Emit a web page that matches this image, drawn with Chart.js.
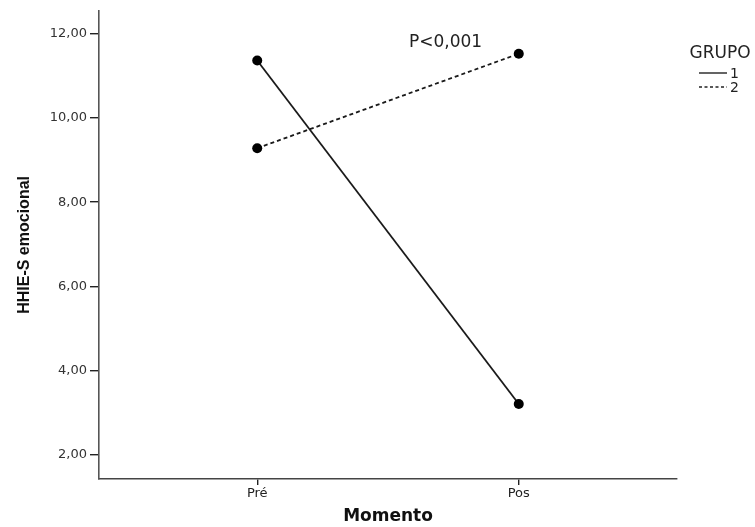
<!DOCTYPE html>
<html>
<head>
<meta charset="utf-8">
<script src="https://cdn.jsdelivr.net/npm/chart.js@4.4.0/dist/chart.umd.min.js"></script>
<style>
  html, body { margin: 0; padding: 0; background: #fff; }
  #wrap { width: 755px; height: 527px; }
</style>
</head>
<body>
<div id="wrap"><canvas id="myChart" width="755" height="527"></canvas></div>
<script>
// data
var momentos = ["Pré", "Pos"];
var grupo1 = [11.36, 3.21];
var grupo2 = [9.28, 11.52];
var grupos = ["1", "2"];
var yTicks = [2, 4, 6, 8, 10, 12];
var pText = "P<0,001";

function toPoints(vals) {
  return vals.map(function (v, i) { return { x: i, y: v }; });
}

// legend "GRUPO" + annotation, drawn on top
var extras = {
  id: "extras",
  afterDraw: function (chart) {
    var c = chart.ctx;
    var area = chart.chartArea;
    c.save();
    c.fillStyle = "#222";
    c.textBaseline = "middle";
    c.font = "17px 'DejaVu Sans'";
    c.textAlign = "left";
    c.fillText(pText, 409, 43);

    var lx = area.right + 22;
    c.font = "17px 'DejaVu Sans'";
    c.textAlign = "center";
    c.fillText("GRUPO", area.right + 43, 54);
    c.font = "14px 'DejaVu Sans'";
    c.textAlign = "left";
    c.strokeStyle = "#222";
    c.lineWidth = 1.4;
    for (var i = 0; i < grupos.length; i++) {
      var ly = 73 + i * 14;
      c.setLineDash(i === 0 ? [] : [3, 2.5]);
      c.beginPath();
      c.moveTo(lx, ly);
      c.lineTo(lx + 28, ly);
      c.stroke();
      c.fillText(grupos[i], lx + 31, ly + 1);
    }
    c.restore();
  }
};

var ctx = document.getElementById("myChart").getContext("2d");
var config = {
  type: "line",
  data: {
    datasets: [
      {
        label: grupos[0],
        data: toPoints(grupo1),
        borderColor: "#1a1a1a",
        backgroundColor: "#000",
        borderWidth: 1.8,
        pointRadius: 5,
        pointBorderWidth: 0,
        pointBackgroundColor: "#000",
      },
      {
        label: grupos[1],
        data: toPoints(grupo2),
        borderColor: "#1a1a1a",
        backgroundColor: "#000",
        borderWidth: 1.8,
        borderDash: [4, 3],
        pointRadius: 5,
        pointBorderWidth: 0,
        pointBackgroundColor: "#000",
      },
    ],
  },
  options: {
    responsive: false,
    animation: false,
    events: [],
    layout: { padding: { top: 10, right: 78, left: 0, bottom: 0 } },
    plugins: { legend: { display: false }, tooltip: { enabled: false } },
    scales: {
      x: {
        type: "linear",
        min: -0.605,
        max: 1.605,
        afterBuildTicks: function (scale) {
          scale.ticks = momentos.map(function (m, i) { return { value: i }; });
        },
        afterFit: function (scale) { scale.height = 48; },
        ticks: {
          autoSkip: false,
          maxRotation: 0,
          padding: 1,
          color: "#222",
          font: { family: "'DejaVu Sans'", size: 13 },
          callback: function (v) { return momentos[v]; },
        },
        grid: { display: true, drawOnChartArea: false, drawTicks: true, tickLength: 6, color: "#222", lineWidth: 1.4 },
        border: { display: true, color: "#444", width: 1.6 },
        title: {
          display: true,
          text: "Momento",
          color: "#111",
          font: { family: "'DejaVu Sans'", size: 17, weight: "bold" },
          padding: { top: 0, bottom: 0 },
        },
      },
      y: {
        min: 1.43,
        max: 12.54,
        afterBuildTicks: function (scale) {
          scale.ticks = yTicks.map(function (v) { return { value: v }; });
        },
        afterFit: function (scale) { scale.width = 99; },
        ticks: {
          padding: 3,
          color: "#333",
          font: { family: "'DejaVu Sans'", size: 13 },
          callback: function (v) { return v.toFixed(2).replace(".", ","); },
        },
        grid: { display: true, drawOnChartArea: false, drawTicks: true, tickLength: 9, color: "#222", lineWidth: 1.4 },
        border: { display: true, color: "#555", width: 1.6 },
        title: {
          display: true,
          text: "HHIE-S emocional",
          color: "#111",
          font: { family: "'Liberation Sans Narrow', 'Arial Narrow', 'Liberation Sans'", size: 16, weight: "bold" },
          padding: { top: 15, bottom: 0 },
        },
      },
    },
  },
  plugins: [extras],
};

var chart = new Chart(ctx, config);
</script>
</body>
</html>
